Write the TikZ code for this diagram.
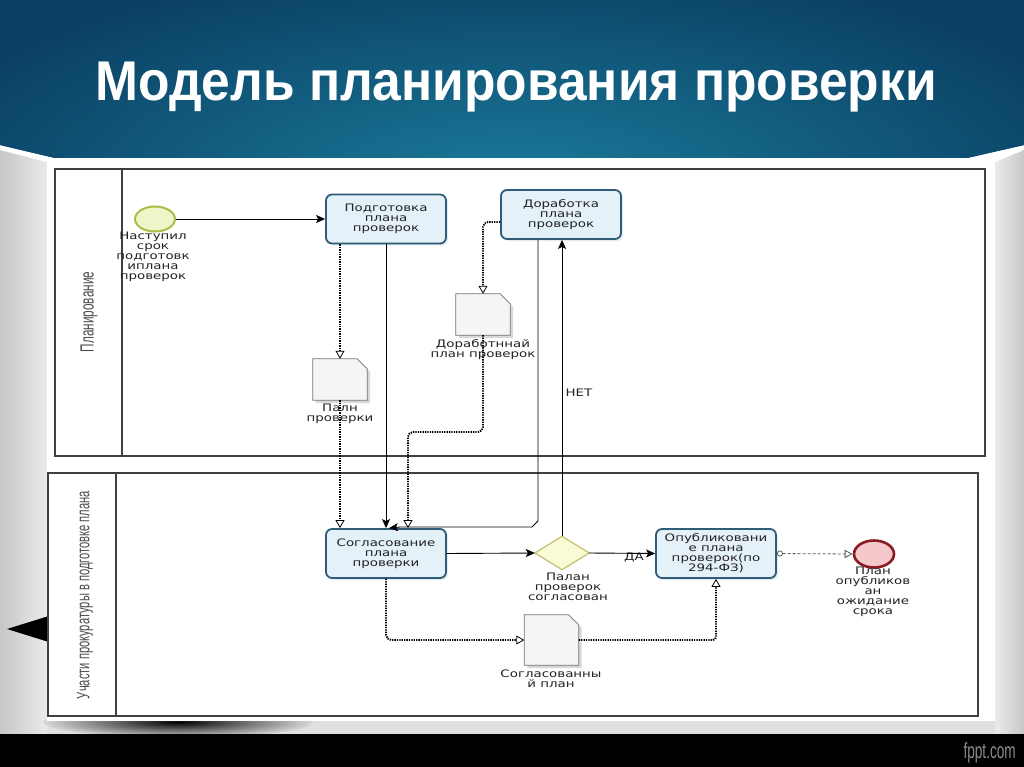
\documentclass[tikz,border=0pt]{standalone}
\usepackage{fontspec}
\setmainfont{Liberation Sans}
\newfontfamily\dfont[FakeStretch=1.3]{DejaVu Sans}
\newfontfamily\lfont[FakeStretch=0.62]{Liberation Sans}
\newfontfamily\tfont[FakeStretch=0.92]{Liberation Sans}
\usetikzlibrary{arrows.meta,shapes.geometric,shadows,calc}
\definecolor{navy}{HTML}{0A4064}
\definecolor{tealc}{HTML}{1B7C9C}
\definecolor{taskb}{HTML}{2F5C78}
\definecolor{taskf}{HTML}{E4F1F8}
\definecolor{txt}{HTML}{222222}
\definecolor{startb}{HTML}{A8BE4A}
\definecolor{startf}{HTML}{EEF5C8}
\definecolor{endb}{HTML}{8B1C24}
\definecolor{endf}{HTML}{F5C8CC}
\definecolor{gwb}{HTML}{C9C77A}
\definecolor{gwf}{HTML}{FAFAD6}
\begin{document}
\begin{tikzpicture}[x=1pt,y=-1pt,
  lane/.style={draw=black!75, line width=1.1pt},
  lanelbl/.style={rotate=90, text=black!70, inner sep=0pt},
  task/.style={rectangle, rounded corners=6pt, draw=taskb, line width=1.8pt,
    fill=taskf, minimum width=120pt, minimum height=49pt, align=center,
    text=txt, font=\dfont\fontsize{10.3}{10}\selectfont, inner sep=1pt,
    drop shadow={shadow xshift=2pt, shadow yshift=-2pt, fill=cyan!30!gray!35, opacity=.5}},
  lbl/.style={align=center, text=txt, font=\dfont\fontsize{10.3}{10}\selectfont, inner sep=0pt},
  docbox/.style={rectangle, minimum width=54pt, minimum height=41pt, inner sep=0pt},
  docline/.style={draw=black!55, line width=0.7pt, fill=black!4},
  seq/.style={draw=black, line width=0.9pt, -{Stealth[length=9pt,width=8pt,inset=2pt]}},
  assoc/.style={draw=black, line width=1.9pt, dash pattern=on 1.3pt off 1.1pt,
    -{Triangle[open,length=8pt,width=9pt,line width=0.8pt]}},
  msg/.style={draw=black!65, line width=0.8pt, dash pattern=on 3pt off 2pt,
    {Circle[open,length=6pt,line width=0.8pt]}-{Triangle[open,length=8pt,width=8pt,line width=0.8pt]}}
]
\useasboundingbox (0,0) rectangle (1024,767);
% background
\fill[black!12] (0,0) rectangle (1024,767);
\shade[left color=black!22, right color=black!8] (0,150) rectangle (47,734);
\shade[left color=black!8, right color=black!22] (995,150) rectangle (1024,734);
% decorations under the panel
\fill[black] (7,629) -- (52,615) -- (52,643) -- cycle;
\shade[inner color=black, outer color=black!15] (178,722) ellipse (135 and 16);
% white strip and panel
\fill[white] (0,142) -- (1024,142) -- (1024,150) -- (995,162) -- (47,162) -- (0,150) -- cycle;
\fill[white] (47,158) rectangle (995,721);
% banner
\begin{scope}
\clip (0,0) -- (1024,0) -- (1024,145) -- (967,158) -- (55,158) -- (0,145) -- cycle;
\fill[navy] (0,0) rectangle (1024,160);
\shade[inner color=tealc, outer color=navy] (512,190) ellipse (620 and 230);
\end{scope}
\node[font=\tfont\bfseries\fontsize{56}{56}\selectfont, text=white, anchor=base] (title) at (516,101) {Модель планирования проверки};
% bottom bar
\fill[black] (0,734) rectangle (1024,767);
\node[font=\lfont\fontsize{22}{22}\selectfont, text=black!45, anchor=base east, inner sep=0pt] (fppt) at (1016,758) {fppt.com};

% lanes
\draw[lane] (55,169) rectangle (985,456);
\draw[lane] (122,169) -- (122,456);
\draw[lane] (48,473) rectangle (978,716);
\draw[lane] (116,473) -- (116,716);
\node[lanelbl, font=\lfont\fontsize{19}{19}\selectfont] (lane1) at (89,312) {Планирование};
\node[lanelbl, font=\lfont\fontsize{18}{18}\selectfont] (lane2) at (85,595) {Участи прокуратуры в подготовке плана};

% events and gateway
\node[ellipse, draw=startb, line width=2pt, fill=startf, minimum width=40pt, minimum height=25pt, inner sep=0pt] (start) at (155,219) {};
\node[ellipse, draw=endb, line width=2.6pt, fill=endf, minimum width=40pt, minimum height=27pt, inner sep=0pt] (end) at (874,554) {};
\node[rectangle, minimum width=54pt, minimum height=33pt, inner sep=0pt] (gw) at (562,553) {};
\filldraw[draw=gwb, fill=gwf, line width=1.4pt] (gw.west) -- (gw.north) -- (gw.east) -- (gw.south) -- cycle;

% tasks
\node[task] (prep) at (386,219) {Подготовка\\плана\\проверок};
\node[task] (rework) at (561,214.5) {Доработка\\плана\\проверок};
\node[task] (agree) at (386,553.5) {Согласование\\плана\\проверки};
\node[task] (publish) at (716,553.5) {Опубликовани\\е плана\\проверок(по\\294-ФЗ)};

% documents
\node[docbox] (docplan) at (340,379.5) {};
\node[docbox] (docrework) at (483,314.5) {};
\node[docbox, minimum height=50pt] (docagreed) at (551.5,640) {};
\foreach \n in {docplan,docrework,docagreed}{
  \fill[black!25, opacity=.6] ([xshift=3pt,yshift=-3pt]\n.south west) -- ([xshift=3pt,yshift=-3pt]\n.north west) -- ([xshift=-7pt,yshift=-3pt]\n.north east) -- ([xshift=3pt,yshift=-13pt]\n.north east) -- ([xshift=3pt,yshift=-3pt]\n.south east) -- cycle;
  \filldraw[docline] (\n.south west) -- (\n.north west) -- ([xshift=-10pt]\n.north east) -- ([yshift=-10pt]\n.north east) -- (\n.south east) -- cycle;
}

% labels
\node[lbl, anchor=north] (startl) at (153,232) {Наступил\\срок\\подготовк\\иплана\\проверок};
\node[lbl, anchor=north] (docplanl) at (340,404) {Палн\\проверки};
\node[lbl, anchor=north] (docreworkl) at (483,339) {Доработннай\\план проверок};
\node[lbl, anchor=north] (docagreedl) at (551,670) {Согласованны\\й план};
\node[lbl, anchor=north] (gwl) at (568,573) {Палан\\проверок\\согласован};
\node[lbl, anchor=north] (endl) at (873,567) {План\\опубликов\\ан\\ожидание\\срока};
\node[lbl] (net) at (579,393) {НЕТ};
\node[lbl] (da) at (634,558) {ДА};

% connectors
\draw[seq] (start.east) -- (prep.west);
\draw[seq] (prep.south) -- (agree.north);
\draw[assoc] (docplan.north |- prep.south) -- (docplan.north);
\draw[assoc] (docplan.south) -- (docplan.south |- agree.north);
\draw[assoc, rounded corners=5pt] ([yshift=-7.5pt]rework.west) -| (docrework.north);
\draw[assoc, rounded corners=5pt] (docrework.south) -- (483,432) -| ([xshift=22pt]agree.north);
\draw[seq] ([xshift=-23pt]rework.south) -- (538,521) -- (532,527) -- (400,527) -- ([xshift=3pt]agree.north);
\draw[seq] (agree.east) -- (gw.west);
\draw[seq] (gw.north) -- (gw.north |- rework.south);
\draw[seq] (gw.east) -- (publish.west);
\draw[msg] (publish.east) -- (end.west);
\draw[assoc, rounded corners=5pt] (agree.south) |- (docagreed.west);
\draw[assoc, rounded corners=3pt] (docagreed.east) -| (publish.south);
\end{tikzpicture}
\end{document}
